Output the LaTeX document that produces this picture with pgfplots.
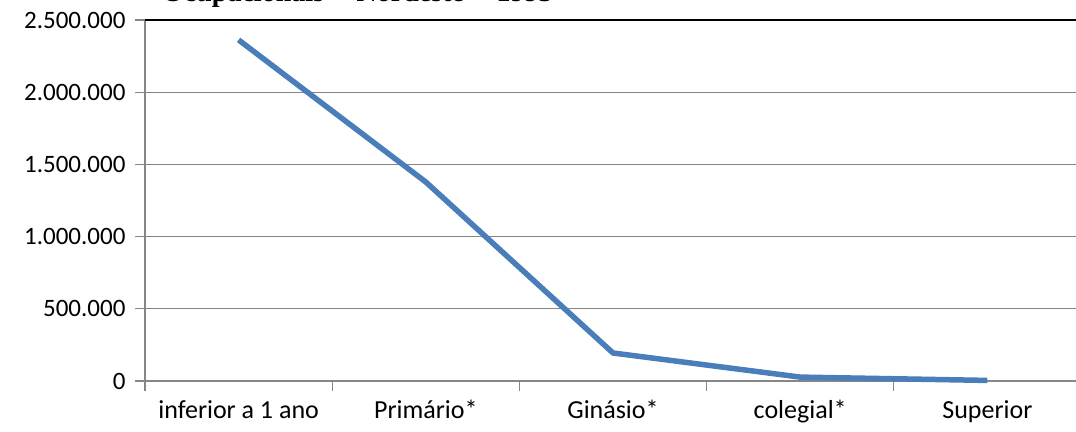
\documentclass[border=0pt]{standalone}
\usepackage{pgfplots}
\pgfplotsset{compat=1.18}
\usepackage{fontspec}
\setmainfont{Carlito}
\newfontfamily\titlefont{Liberation Serif}
\definecolor{linec}{HTML}{4A7EBB}
\definecolor{gridc}{HTML}{868686}
\begin{document}
\begin{tikzpicture}
\useasboundingbox (0,0) rectangle (1076bp,432bp);
\clip (0,0) rectangle (1076bp,432bp);
\node[anchor=base west, font=\titlefont\bfseries\fontsize{28bp}{32bp}\selectfont, inner sep=0] at (162bp,430.5bp) {Ocupacionais -- Nordeste -- 1993};
\begin{axis}[
  at={(145bp,51bp)}, anchor=south west,
  scale only axis, width=936bp, height=361bp,
  xmin=-0.5, xmax=4.5, ymin=0, ymax=2500000,
  clip=false, scaled y ticks=false,
  axis x line*=bottom, axis y line*=left,
  axis line style={gridc, line width=1.2bp},
  ymajorgrids, grid style={gridc, line width=1.2bp},
  ytick={0,500000,1000000,1500000,2000000,2500000},
  yticklabels={0,500.000,1.000.000,1.500.000,2.000.000,2.500.000},
  xtick={-0.5,0.5,1.5,2.5,3.5,4.5},
  x tick label as interval,
  xticklabels={inferior a 1 ano,Primário*,Ginásio*,colegial*,Superior},
  tick align=outside, major tick length=10bp,
  tick style={gridc, line width=1.2bp},
  every tick label/.append style={font=\fontsize{25bp}{30bp}\selectfont, black},
  yticklabel style={xshift=-6bp},
  xticklabel style={yshift=-6bp, font=\fontsize{26bp}{30bp}\selectfont},
]
\draw[black, line width=1.5bp] (rel axis cs:0,1) -- (rel axis cs:1,1);
\addplot[linec, line width=5.5bp, line join=round] coordinates {
  (0,2362000) (1,1378000) (2,194000) (3,27000) (4,4000)
};
\end{axis}
\end{tikzpicture}
\end{document}
